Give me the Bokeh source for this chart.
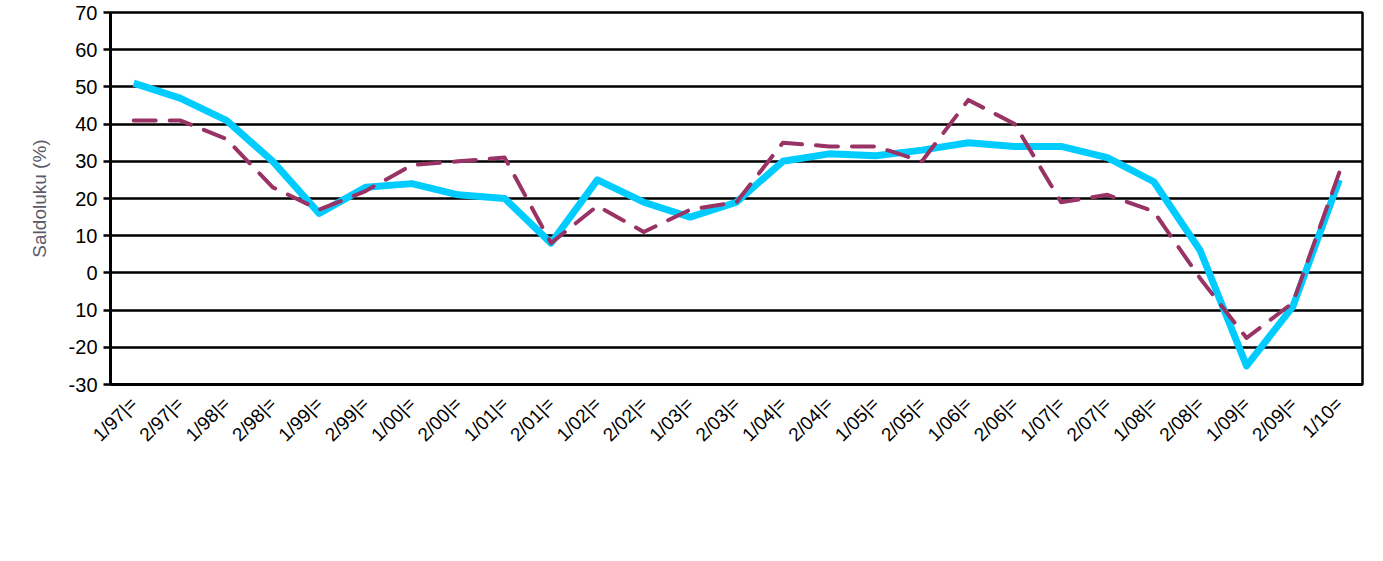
import math
from bokeh.plotting import figure
from bokeh.models import FactorRange, Range1d, Legend, LegendItem, FixedTicker, ColumnDataSource
from bokeh.embed import file_html
from bokeh.resources import INLINE

periods = ["1/97|=", "2/97|=", "1/98|=", "2/98|=", "1/99|=", "2/99|=", "1/00|=", "2/00|=",
           "1/01|=", "2/01|=", "1/02|=", "2/02|=", "1/03|=", "2/03|=", "1/04|=", "2/04|=",
           "1/05|=", "2/05|=", "1/06|=", "2/06|=", "1/07|=", "2/07|=", "1/08|=", "2/08|=",
           "1/09|=", "2/09|=", "1/10="]
koko_maa = [51, 47, 41, 30, 16, 23, 24, 21, 20, 8, 25, 19, 15, 19, 30, 32, 31.5, 33, 35,
            34, 34, 31, 24.5, 6, -25, -9, 25]
kanta_hame = [41, 41, 36, 23, 17, 22, 29, 30, 31, 8, 18, 11, 17, 19, 35, 34, 34, 30, 46.5,
              40, 19, 21, 16.5, -1.5, -17.5, -8, 27]
y_ticks = [-30, -20, -10, 0, 10, 20, 30, 40, 50, 60, 70]
y_tick_text = {-30: "-30", -20: "-20", -10: "10", 0: "0", 10: "10", 20: "20", 30: "30",
               40: "40", 50: "50", 60: "60", 70: "70"}

FONT = "Liberation Sans"

p = figure(frame_width=1252, frame_height=372, output_backend="svg", toolbar_location=None,
           x_range=FactorRange(*periods, range_padding=0), y_range=Range1d(-30, 70),
           min_border_left=110, min_border_right=5, min_border_top=12, min_border_bottom=0)

src = ColumnDataSource(dict(x=periods, a=koko_maa, b=kanta_hame))

p.ygrid.ticker = FixedTicker(ticks=y_ticks)
p.ygrid.grid_line_color = "black"
p.ygrid.grid_line_width = 2.5
p.xgrid.grid_line_color = None

r1 = p.line("x", "a", source=src, line_color="#00CCFF", line_width=7, line_join="round")
r2 = p.line("x", "b", source=src, line_color="#993366", line_width=4, line_dash="22 14",
            line_cap="round", line_join="round")

p.outline_line_color = "black"
p.outline_line_width = 2.5

ya = p.yaxis[0]
ya.ticker = FixedTicker(ticks=y_ticks)
ya.major_label_overrides = y_tick_text
ya.axis_line_color = "black"
ya.axis_line_width = 3
ya.major_tick_line_width = 2.5
ya.major_tick_out = 7
ya.major_tick_in = 0
ya.minor_tick_line_color = None
ya.major_label_text_font = FONT
ya.major_label_text_font_size = "20px"
ya.major_label_text_color = "black"
ya.major_label_standoff = 6
ya.axis_label = "Saldoluku (%)"
ya.axis_label_text_font = FONT
ya.axis_label_text_font_size = "19px"
ya.axis_label_text_font_style = "normal"
ya.axis_label_text_color = "#5a5a6a"
ya.axis_label_standoff = 16

xa = p.xaxis[0]
xa.axis_line_color = "black"
xa.axis_line_width = 3
xa.major_tick_line_color = None
xa.minor_tick_line_color = None
xa.major_label_orientation = math.pi / 4
xa.major_label_text_font = FONT
xa.major_label_text_font_size = "19px"
xa.major_label_text_color = "black"
xa.major_label_standoff = 10

legend = Legend(items=[LegendItem(label="Koko maa", renderers=[r1]),
                       LegendItem(label="Kanta-Häme", renderers=[r2])],
                orientation="horizontal", location="top_center")
legend.label_text_font = FONT
legend.label_text_font_size = "17px"
legend.label_text_color = "black"
legend.glyph_width = 62
legend.glyph_height = 20
legend.label_standoff = 6
legend.spacing = 55
legend.padding = 16
legend.margin = 50
legend.border_line_color = "black"
legend.border_line_width = 2.5
legend.background_fill_color = "white"
legend.background_fill_alpha = 1
p.add_layout(legend, "below")

open("out.html", "w").write(file_html(p, INLINE))
